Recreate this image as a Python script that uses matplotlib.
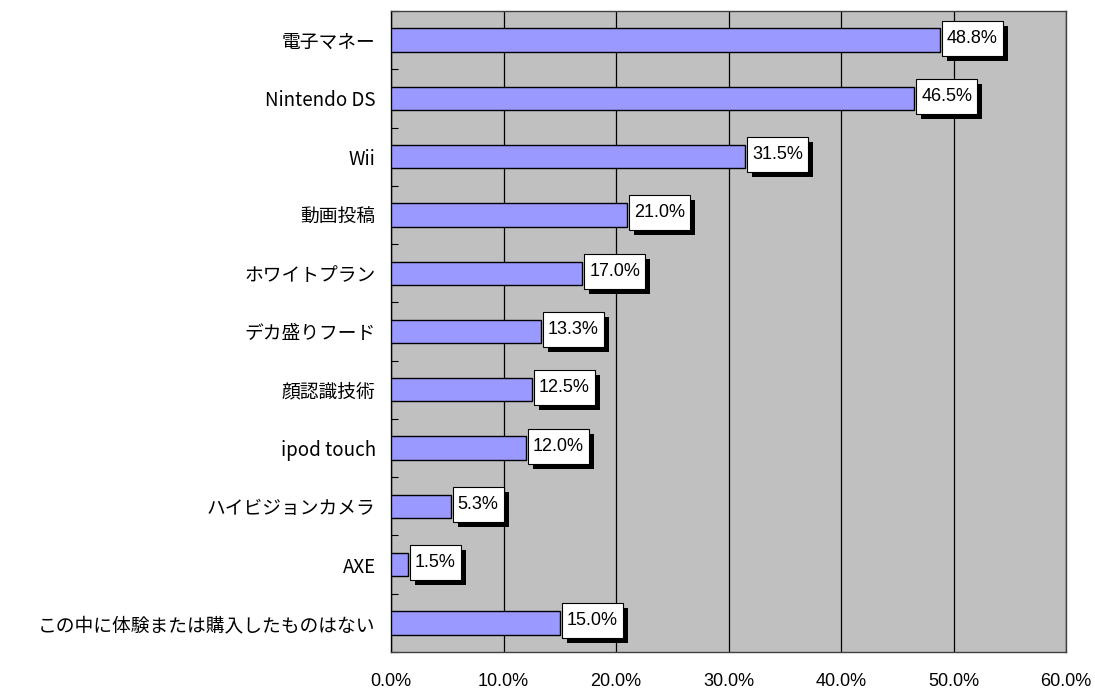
import matplotlib
matplotlib.use("Agg")
import matplotlib.pyplot as plt
import matplotlib.transforms as mtransforms
from matplotlib.patches import Rectangle
import numpy as np

plt.rcParams['font.family'] = ['Noto Sans CJK JP', 'DejaVu Sans']
num_font = ['Liberation Sans', 'DejaVu Sans']

categories = ["電子マネー", "Nintendo DS", "Wii", "動画投稿", "ホワイトプラン",
              "デカ盛りフード", "顔認識技術", "ipod touch", "ハイビジョンカメラ",
              "AXE", "この中に体験または購入したものはない"]
values = [48.8, 46.5, 31.5, 21.0, 17.0, 13.3, 12.5, 12.0, 5.3, 1.5, 15.0]
xticks = [0, 10, 20, 30, 40, 50, 60]

dpi = 100
fig = plt.figure(figsize=(10.95, 6.91), dpi=dpi)
ax = fig.add_axes([391/1095, 1 - 652/691, 675/1095, 641/691])
ax.set_facecolor('#C0C0C0')

y = np.arange(len(categories))
ax.barh(y, values, height=0.4, color='#9999FF', edgecolor='black', linewidth=1, zorder=3)

ax.set_xlim(0, 60)
ax.set_ylim(len(categories) - 0.5, -0.5)

# value labels: white box with a solid black drop shadow
renderer = fig.canvas.get_renderer()
for yi, v in zip(y, values):
    tr = mtransforms.offset_copy(ax.transData, fig=fig, x=7, y=2, units='dots')
    t = ax.text(v, yi, f"{v:.1f}%", transform=tr, ha='left', va='center',
                fontsize=13, family=num_font, zorder=6)
    bb = t.get_window_extent(renderer)
    w = (bb.width + 10) / dpi
    h = 0.35
    base = fig.dpi_scale_trans + mtransforms.ScaledTranslation(v, yi, ax.transData)
    ax.add_patch(Rectangle((0.07, -0.205), w, h, transform=base, fc='black',
                           ec='none', zorder=4, clip_on=False))
    ax.add_patch(Rectangle((0.02, -0.155), w, h, transform=base, fc='white',
                           ec='black', lw=0.8, zorder=5, clip_on=False))

ax.set_xticks(xticks)
ax.set_xticklabels([f"{x:.1f}%" for x in xticks], fontsize=13, family=num_font)
ax.tick_params(axis='x', length=0, pad=15)
ax.set_yticks(y)
ax.set_yticklabels(categories, fontsize=13.5)
ax.tick_params(axis='y', length=0, pad=11)
ax.set_yticks(np.arange(-0.5, len(categories), 1), minor=True)
ax.tick_params(axis='y', which='minor', direction='in', length=5, width=0.8)

ax.xaxis.grid(True, color='black', linewidth=0.9, zorder=1)
ax.set_axisbelow(True)
for s in ax.spines.values():
    s.set_color('#404040')
    s.set_linewidth(1)
ax.spines['left'].set_color('black')

fig.savefig('out.png', dpi=dpi)
